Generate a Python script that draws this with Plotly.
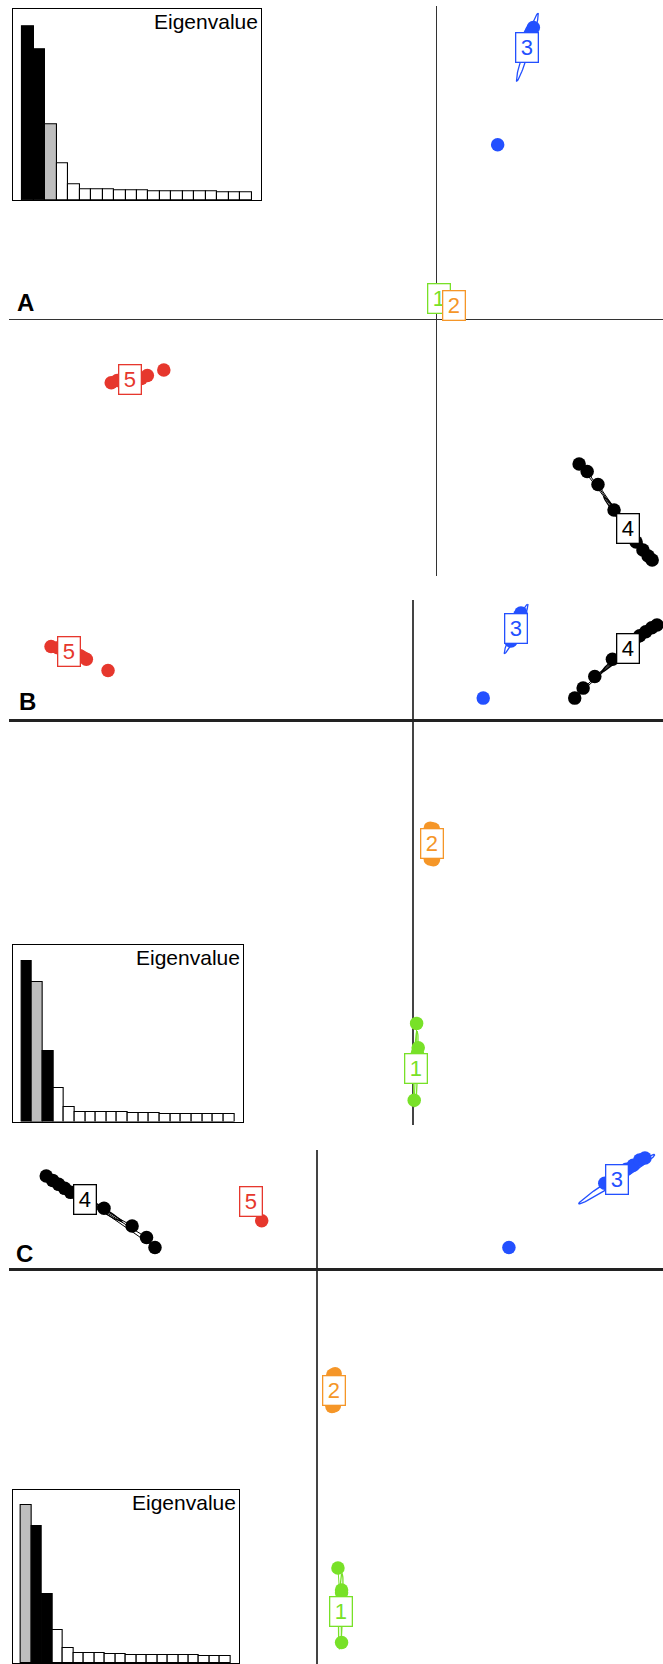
import math
import plotly.graph_objects as go

W, H = 663, 1664
FONT = "Liberation Sans, Arial, Helvetica, sans-serif"

GROUPS = ["1", "2", "3", "4", "5"]
COLORS = {"1": "#78E128", "2": "#F59628", "3": "#2350FF", "4": "#000000", "5": "#E6372D"}

# ---------------- eigenvalue insets ----------------
EIGENVALUES = [173.3, 150.3, 75.6, 36.6, 16.0, 10.6, 10.6, 10.6, 10.0, 10.0,
               9.3, 9.0, 9.0, 8.7, 8.7, 8.7, 8.3, 8.0, 8.0, 8.0]
GRAY = "#BEBEBE"
BAR_COLORS_A = ["black", "black", GRAY] + ["white"] * 17
BAR_COLORS_B = ["black", GRAY, "black"] + ["white"] * 17
BAR_COLORS_C = [GRAY, "black", "black"] + ["white"] * 17

# ---------------- panel A (discriminant scores) ----------------
A_CENTROIDS = {"1": (0.07, 0.53), "2": (0.45, 0.35), "3": (2.27, 6.81),
               "4": (4.78, -5.22), "5": (-7.64, -1.50)}
A_POINTS = {
    "1": [(0.05, 0.50), (0.09, 0.56), (0.07, 0.52)],
    "2": [(0.43, 0.33), (0.47, 0.37)],
    "3": [(2.33, 7.12), (2.38, 7.22), (2.42, 7.30), (2.36, 7.18), (2.30, 7.02)],
    "4": [(3.56, -3.61), (3.76, -3.80), (4.03, -4.12), (4.43, -4.76), (4.83, -5.43),
          (4.98, -5.56), (5.15, -5.76), (5.28, -5.91), (5.38, -6.01)],
    "5": [(-8.10, -1.58), (-7.95, -1.52), (-7.35, -1.47), (-7.20, -1.40)],
}
A_EXTRA = {"3": [(1.53, 4.37)], "5": [(-6.79, -1.26)]}
A_ELLIPSES = {"1": (0.12, 0.08, 0), "2": (0.12, 0.08, 0), "3": (0.89, 0.07, 72.6),
              "4": (1.00, 0.06, -52.7), "5": (0.55, 0.12, 8)}

# ---------------- panel B ----------------
B_CENTROIDS = {"1": (0.08, -8.70), "2": (0.49, -3.07), "3": (2.58, 2.30),
               "4": (5.38, 1.80), "5": (-8.57, 1.73)}
B_POINTS = {
    "1": [(0.10, -7.56), (0.14, -8.17), (0.12, -8.30), (0.04, -9.48)],
    "2": [(0.44, -2.68), (0.52, -2.70), (0.44, -3.45), (0.52, -3.47)],
    "3": [(2.66, 2.62), (2.70, 2.70), (2.61, 2.55), (2.45, 2.00)],
    "4": [(4.04, 0.57), (4.25, 0.82), (4.54, 1.11), (4.98, 1.54), (5.50, 2.03),
          (5.66, 2.13), (5.81, 2.23), (5.96, 2.33), (6.09, 2.40)],
    "5": [(-9.01, 1.86), (-8.84, 1.83), (-8.29, 1.63), (-8.13, 1.54)],
}
B_EXTRA = {"3": [(1.76, 0.57)], "5": [(-7.59, 1.26)]}
B_ELLIPSES = {"1": (0.95, 0.05, 88), "2": (0.42, 0.26, 90), "3": (0.68, 0.07, 64.7),
              "4": (0.90, 0.06, 40.6), "5": (0.55, 0.12, -12)}

# ---------------- panel C ----------------
C_CENTROIDS = {"1": (0.58, -8.56), "2": (0.40, -3.04), "3": (7.46, 2.25),
               "4": (-5.79, 1.75), "5": (-1.66, 1.68)}
C_POINTS = {
    "1": [(0.51, -7.48), (0.60, -8.03), (0.60, -8.10), (0.60, -9.34)],
    "2": [(0.38, -2.65), (0.44, -2.62), (0.36, -3.44), (0.42, -3.42)],
    "3": [(7.16, 2.15), (7.70, 2.50), (7.87, 2.60), (8.03, 2.73), (8.16, 2.78)],
    "4": [(-6.76, 2.33), (-6.60, 2.22), (-6.45, 2.12), (-6.30, 2.02), (-6.15, 1.92),
          (-5.32, 1.52), (-4.62, 1.08), (-4.26, 0.79), (-4.05, 0.54)],
    "5": [(-1.68, 1.70), (-1.64, 1.66)],
}
C_EXTRA = {"3": [(4.77, 0.54)], "5": [(-1.39, 1.21)]}
C_ELLIPSES = {"1": (0.95, 0.05, 88), "2": (0.42, 0.26, 90), "3": (1.13, 0.08, 33),
              "4": (1.08, 0.06, -31.5), "5": (0.20, 0.10, 0)}

PANEL_LETTERS = ["A", "B", "C"]


# ---------------- layout helpers (pixel boxes -> paper domains) ----------------
def xdom(x0, x1):
    return [x0 / W, x1 / W]


def ydom(y0, y1):
    return [max(0.0, 1 - y1 / H), min(1.0, 1 - y0 / H)]


def ellipse_path(cx, cy, a, b, ang, n=72):
    th = math.radians(ang)
    xs, ys = [], []
    for i in range(n + 1):
        t = 2 * math.pi * i / n
        ex, ey = a * math.cos(t), b * math.sin(t)
        xs.append(cx + ex * math.cos(th) - ey * math.sin(th))
        ys.append(cy + ex * math.sin(th) + ey * math.cos(th))
    return xs, ys


fig = go.Figure()

panels = [
    dict(cent=A_CENTROIDS, pts=A_POINTS, extra=A_EXTRA, ell=A_ELLIPSES,
         xa="x", ya="y", xr=[-10.66, 5.65], yr=[-6.41, 7.85],
         dom_x=xdom(8.5, 663), dom_y=ydom(5.6, 576),
         vz=(1.3, "#333333"), hz=(1.3, "#333333")),
    dict(cent=B_CENTROIDS, pts=B_POINTS, extra=B_EXTRA, ell=B_ELLIPSES,
         xa="x2", ya="y2", xr=[-10.07, 6.24], yr=[-10.10, 3.03],
         dom_x=xdom(8.5, 663), dom_y=ydom(599.7, 1125),
         vz=(1.6, "#444444"), hz=(2.6, "#222222")),
    dict(cent=C_CENTROIDS, pts=C_POINTS, extra=C_EXTRA, ell=C_ELLIPSES,
         xa="x3", ya="y3", xr=[-7.70, 8.61], yr=[-9.88, 2.98],
         dom_x=xdom(8.5, 663), dom_y=ydom(1150, 1664),
         vz=(1.6, "#444444"), hz=(2.6, "#222222")),
]

annotations = []
for p in panels:
    for g in GROUPS:
        col = COLORS[g]
        cx, cy = p["cent"][g]
        a, b, ang = p["ell"][g]
        ex, ey = ellipse_path(cx, cy, a, b, ang)
        fig.add_trace(go.Scatter(x=ex, y=ey, mode="lines", line=dict(color=col, width=1.3),
                                 xaxis=p["xa"], yaxis=p["ya"], hoverinfo="skip"))
        sx, sy = [], []
        for (px, py) in p["pts"][g]:
            sx += [cx, px, None]
            sy += [cy, py, None]
        fig.add_trace(go.Scatter(x=sx, y=sy, mode="lines", line=dict(color=col, width=1.0),
                                 xaxis=p["xa"], yaxis=p["ya"], hoverinfo="skip"))
        allp = p["pts"][g] + p["extra"].get(g, [])
        fig.add_trace(go.Scatter(x=[q[0] for q in allp], y=[q[1] for q in allp], mode="markers",
                                 marker=dict(color=col, size=13.5, line=dict(width=0)),
                                 xaxis=p["xa"], yaxis=p["ya"], hoverinfo="skip"))
    for g in GROUPS:
        cx, cy = p["cent"][g]
        annotations.append(dict(
            x=cx, y=cy, xref=p["xa"], yref=p["ya"], text=g, showarrow=False,
            font=dict(family=FONT, size=22, color=COLORS[g]),
            bgcolor="white", bordercolor=COLORS[g], borderwidth=1.3, borderpad=1,
            width=19, height=26, xanchor="center", yanchor="middle"))

# eigenvalue insets
insets = [
    dict(colors=BAR_COLORS_A, xa="x4", ya="y4", dom_x=xdom(13, 261), dom_y=ydom(9.3, 200)),
    dict(colors=BAR_COLORS_B, xa="x5", ya="y5", dom_x=xdom(12.7, 243), dom_y=ydom(945, 1121.6)),
    dict(colors=BAR_COLORS_C, xa="x6", ya="y6", dom_x=xdom(12.7, 239), dom_y=ydom(1490, 1663)),
]
bar_x = list(range(1, len(EIGENVALUES) + 1))
for ins in insets:
    fig.add_trace(go.Bar(x=bar_x, y=EIGENVALUES, width=1.0,
                         marker=dict(color=ins["colors"], line=dict(color="black", width=1.1)),
                         xaxis=ins["xa"], yaxis=ins["ya"], hoverinfo="skip"))
    annotations.append(dict(
        x=1, y=1, xref=ins["xa"] + " domain", yref=ins["ya"] + " domain",
        text="Eigenvalue", showarrow=False, xanchor="right", yanchor="top",
        xshift=-1, yshift=1, font=dict(family=FONT, size=21, color="black")))

# panel letters
letter_pos = [(15, 302.5), (17, 701.5), (14, 1253.5)]
for L, (lx, ly) in zip(PANEL_LETTERS, letter_pos):
    annotations.append(dict(
        x=lx / W, y=1 - ly / H, xref="paper", yref="paper", text="<b>%s</b>" % L,
        showarrow=False, xanchor="left", yanchor="middle",
        font=dict(family=FONT, size=24, color="black")))

layout = dict(
    width=W, height=H, margin=dict(l=0, r=0, t=0, b=0),
    paper_bgcolor="white", plot_bgcolor="white", showlegend=False,
    bargap=0, annotations=annotations, hovermode=False,
)

for i, p in enumerate(panels):
    sfx = "" if i == 0 else str(i + 1)
    layout["xaxis" + sfx] = dict(domain=p["dom_x"], range=p["xr"], showgrid=False,
                                 zeroline=True, zerolinecolor=p["vz"][1], zerolinewidth=p["vz"][0],
                                 showticklabels=False, ticks="", showline=False, fixedrange=True,
                                 anchor="y" + sfx)
    layout["yaxis" + sfx] = dict(domain=p["dom_y"], range=p["yr"], showgrid=False,
                                 zeroline=True, zerolinecolor=p["hz"][1], zerolinewidth=p["hz"][0],
                                 showticklabels=False, ticks="", showline=False, fixedrange=True,
                                 anchor="x" + sfx)

ymax = max(EIGENVALUES) * 1.097
for i, ins in enumerate(insets):
    n = i + 4
    layout["xaxis%d" % n] = dict(domain=ins["dom_x"], range=[-0.3, len(EIGENVALUES) + 1.3],
                                 showgrid=False, zeroline=False, showticklabels=False, ticks="",
                                 showline=True, mirror=True, linecolor="black", linewidth=1.3,
                                 fixedrange=True, anchor="y%d" % n)
    layout["yaxis%d" % n] = dict(domain=ins["dom_y"], range=[0, ymax],
                                 showgrid=False, zeroline=False, showticklabels=False, ticks="",
                                 showline=True, mirror=True, linecolor="black", linewidth=1.3,
                                 fixedrange=True, anchor="x%d" % n)

fig.update_layout(**layout)
fig.write_html("out.html", config={"displayModeBar": False},
               post_script="document.body.style.margin='0';document.body.style.overflow='hidden';")
